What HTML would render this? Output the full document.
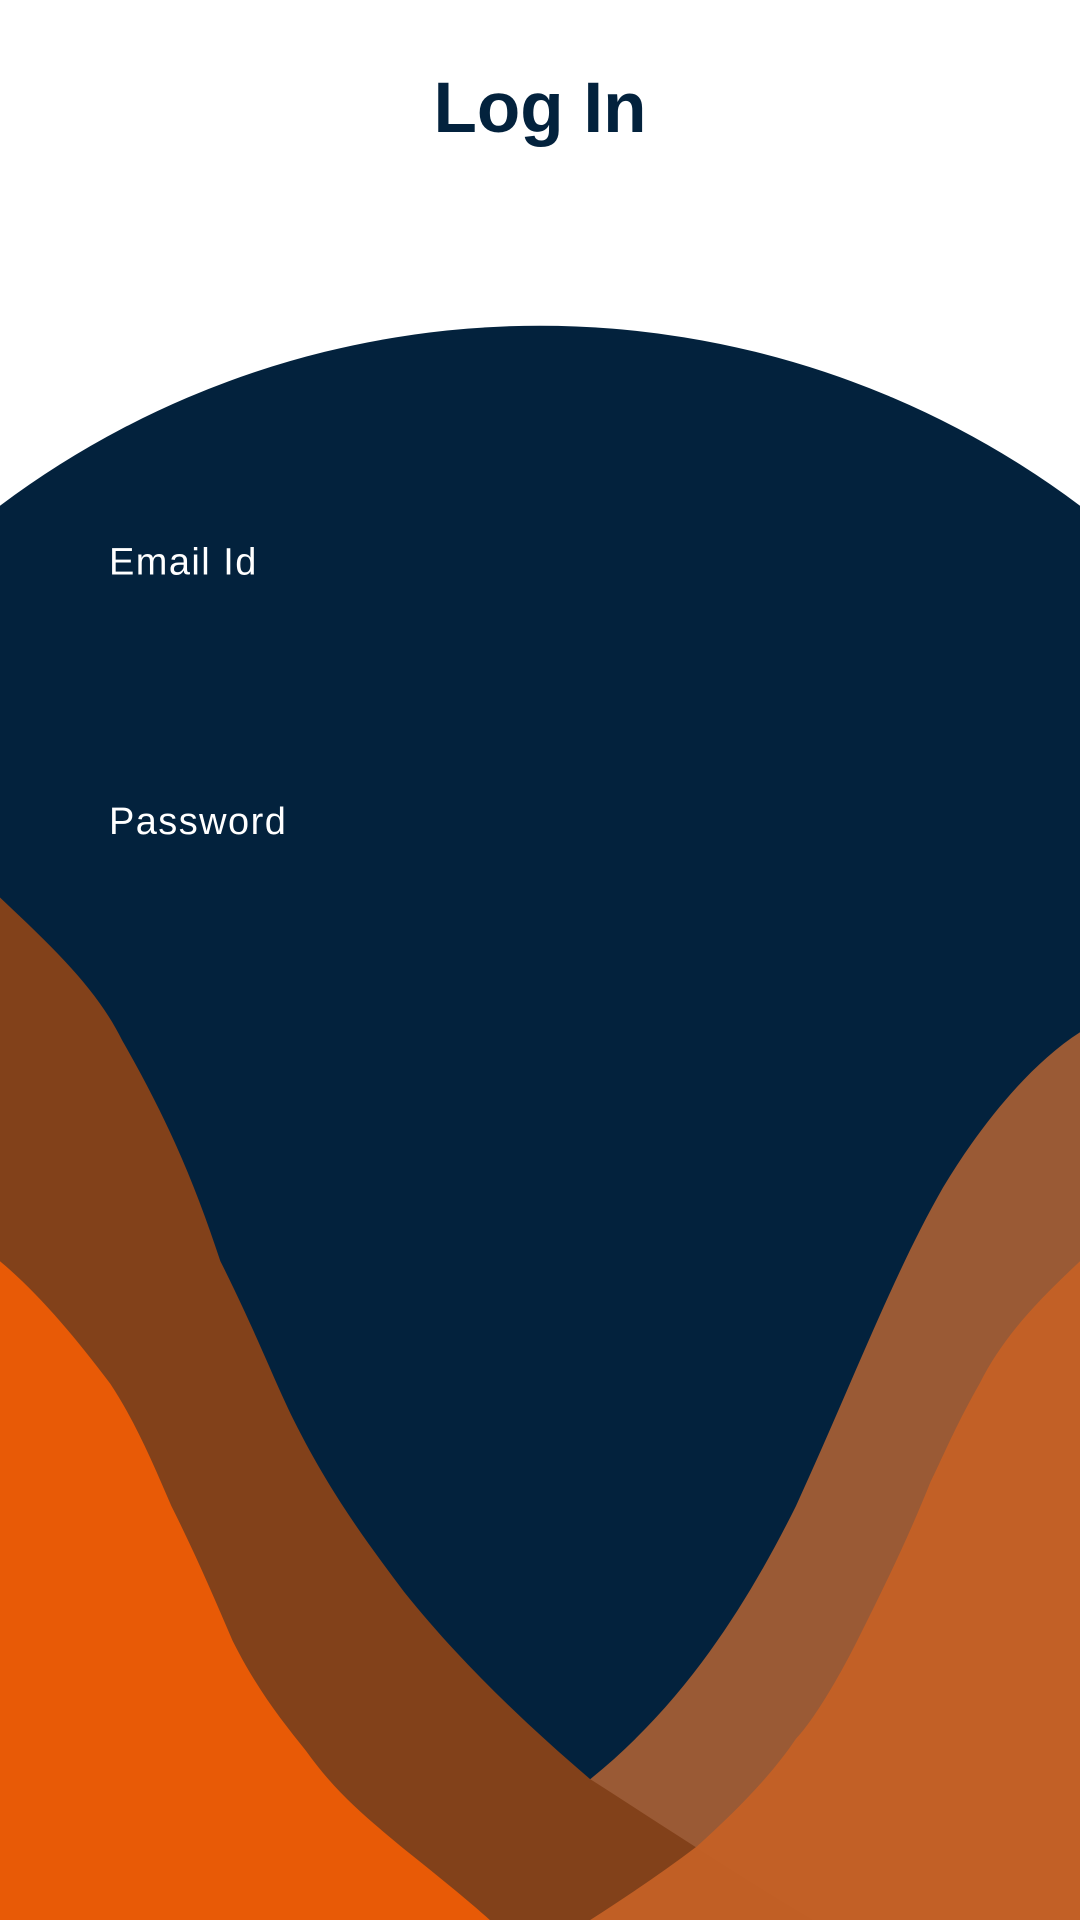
<!DOCTYPE html>
<html><head><meta charset="utf-8"><style>
html,body{margin:0;padding:0;background:#fff;width:1080px;height:1920px;overflow:hidden;position:relative}
svg{display:block;position:absolute;left:0;top:0}
</style></head><body>
<svg width="1080" height="1920" viewBox="0 0 882 1568" xmlns="http://www.w3.org/2000/svg" overflow="hidden">
<rect x="0" y="0" width="882" height="1568" fill="#ffffff"/>
<text x="441" y="108" text-anchor="middle" font-family="Liberation Sans, sans-serif" font-weight="bold" font-size="58" fill="#03223d">Log In</text>
<path fill="#03223d" d="M0,413 A735,735 0 0 1 882,413 L882,1568 L0,1568 Z"/>
<path fill="#9a5a35" d="M882,843 C840,870 800,920 770,970 C730,1040 700,1120 650,1230 C610,1310 560,1390 482,1453 C440,1490 420,1530 400,1568 L882,1568 Z"/>
<path fill="#82411a" d="M0,733 C50,780 80,810 100,850 C140,920 160,970 180,1030 C210,1090 225,1130 240,1160 C270,1220 300,1260 330,1300 C370,1350 420,1400 482,1453 C540,1490 600,1530 664,1568 L0,1568 Z"/>
<path fill="#c46126" fill-opacity="0.95" d="M882,1030 C850,1060 820,1090 800,1130 C780,1165 770,1190 760,1210 C740,1260 720,1300 700,1340 C680,1380 660,1410 650,1420 C630,1450 600,1480 569,1508 C540,1530 510,1550 482,1568 L882,1568 Z"/>
<path fill="#e85a06" d="M0,1030 C30,1055 60,1090 90,1130 C110,1160 125,1195 140,1230 C160,1270 175,1305 190,1340 C210,1380 230,1405 250,1430 C275,1465 300,1485 330,1510 C355,1530 380,1550 400,1568 L0,1568 Z"/>
<text x="89" y="469" font-family="Liberation Sans, sans-serif" font-size="31" letter-spacing="1.2" fill="#ffffff">Email Id</text>
<rect x="89" y="480" width="704" height="80" fill="transparent"/>
<text x="89" y="681" font-family="Liberation Sans, sans-serif" font-size="31" letter-spacing="1.2" fill="#ffffff">Password</text>
<rect x="89" y="692" width="704" height="80" fill="transparent"/>
</svg>
</body></html>
